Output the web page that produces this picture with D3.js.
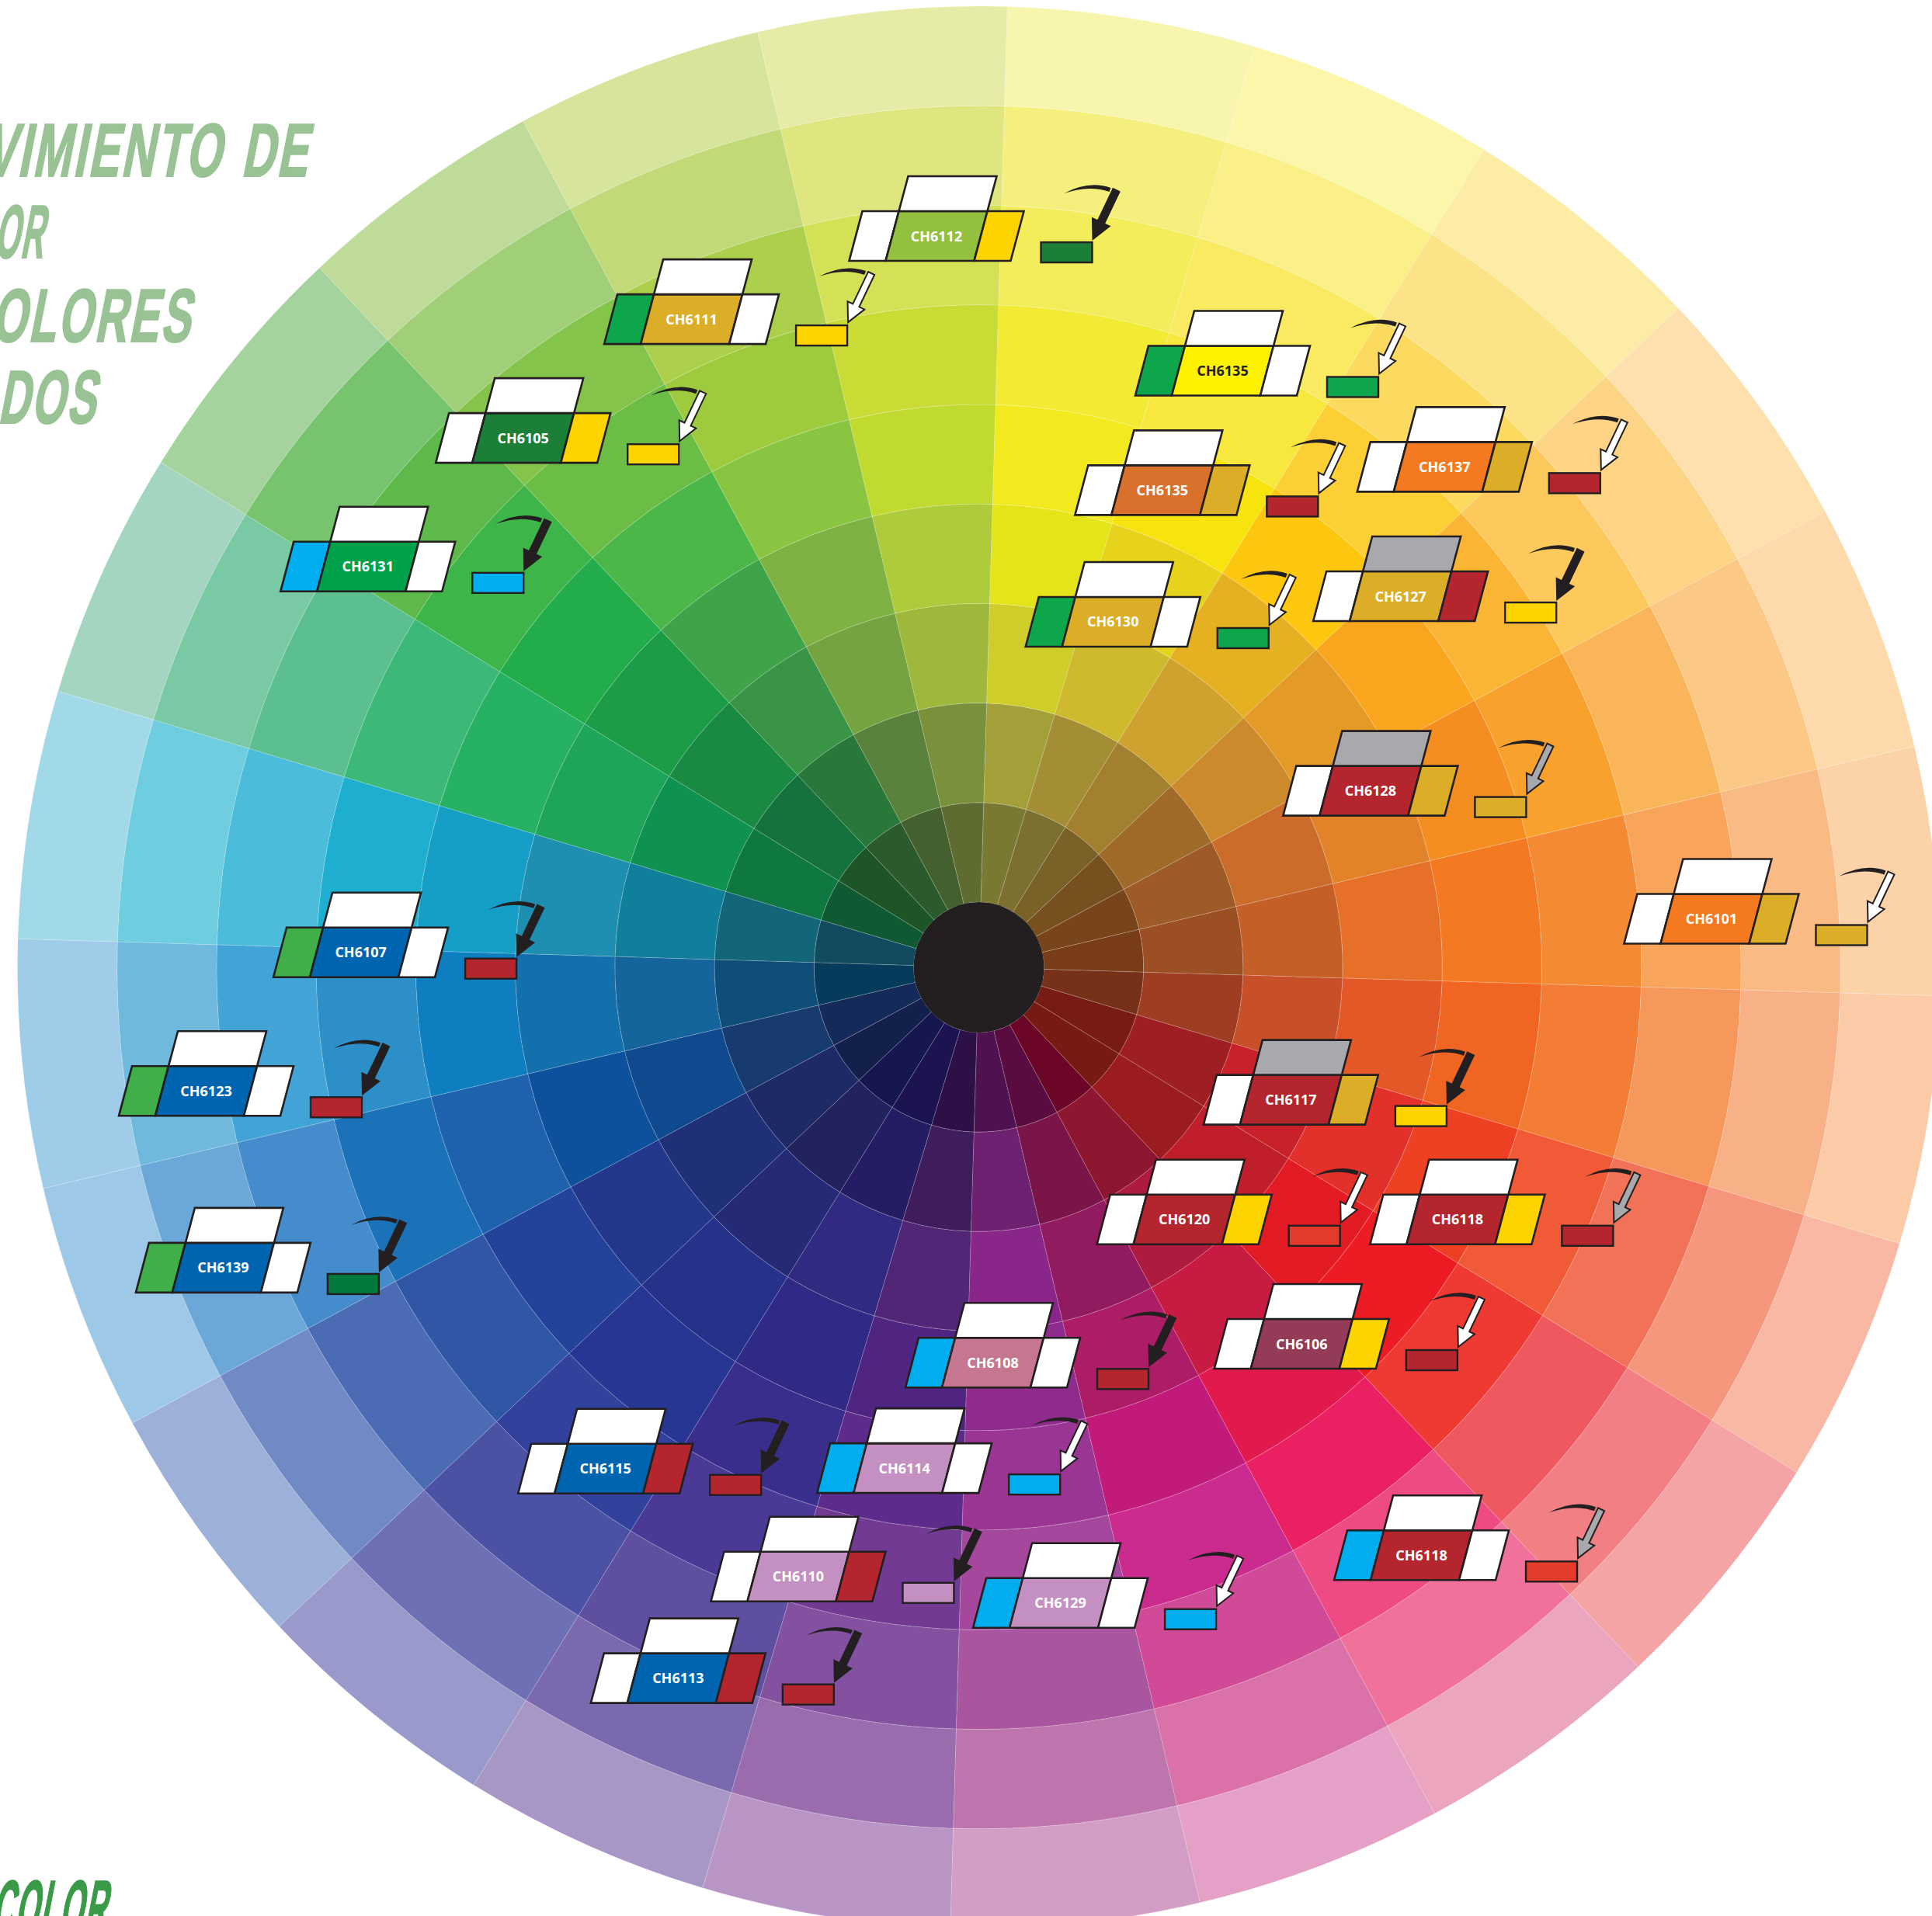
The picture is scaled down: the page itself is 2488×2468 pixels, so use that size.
<!DOCTYPE html>
<html>
<head>
<meta charset="utf-8">
<script src="https://cdn.jsdelivr.net/npm/d3@7"></script>
<style>
  html, body { margin: 0; padding: 0; background: #fff; }
  svg { display: block; }
</style>
</head>
<body>
<div id="wheel"></div>
<script>
// colour wheel: 24 hue sectors x 9 rings (inner rings = shades, outer rings = tints)

var svgWidth = 2488;
var svgHeight = 2468;

// one array per ring, inner to outer, sectors clockwise from 12 o'clock (yellow first)
var ring1 = ["#7a7931","#7b7030","#7a6127","#785020","#78441b","#783d18","#783119","#771b15","#771a14","#6b0626","#5a0b40","#4f1150",
             "#2d1048","#1b1450","#17174f","#14204c","#142a58","#073b5b","#124a5f","#0f5a33","#1e5528","#2b5a2c","#45602f","#5f6c31"];
var ring2 = ["#a3a03a","#a38e35","#a2802f","#a06b29","#9f5b27","#9d4f24","#9e3d22","#9d1f21","#9a1b20","#8f1631","#7b1549","#6d2170",
             "#3f1d5d","#241d63","#22225f","#1d2a66","#173a6f","#0f4e79","#136579","#0e7840","#15723f","#2a773a","#5a823c","#7a913c"];
var ring3 = ["#cecd2a","#cfba2d","#cfa12e","#cc8a2d","#cb6c2a","#c55f28","#c75029","#c8212a","#c11e2c","#ae1b3e","#921a5e","#8a2689",
             "#512676","#302a80","#242a76","#1f3078","#0f4a8e","#15649b","#0f7f9b","#0f924f","#1a8a43","#399446","#74a33f","#9db83b"];
var ring4 = ["#e5e418","#e7d21c","#e5b021","#e49a26","#e2832a","#e67027","#e45726","#e3302a","#e21b24","#c81b41","#ad1c66","#8f2b8c",
             "#502582","#2f2a86","#263189","#23388a","#0d519d","#1470ac","#1e8eb1","#1fa55a","#1d9c48","#3fa449","#7eb242","#adcb3a"];
var ring5 = ["#f2e91e","#f7e40f","#fdc70f","#f9a61e","#f48e20","#f37a22","#f06522","#ee4124","#ed1c24","#e2194d","#c21a7b","#9a3594",
             "#5d2b8c","#3a2e8c","#273692","#23439b","#1e61ad","#0f7ec0","#159fc6","#27b164","#23ad4a","#4ab748","#89c541","#c1da2f"];
var ring6 = ["#f2ea33","#f8e73c","#fcd035","#fbb534","#f8a12d","#f48a33","#f37d34","#f05a36","#ee3a33","#ea2063","#cb2a8f","#a5479c",
             "#723a92","#4a3a95","#31419c","#3056a6","#1b72b9","#2d8fc8","#1eaecf","#3cb979","#3db548","#6bbd45","#9dcb3d","#cadb36"];
var ring7 = ["#f3ed5b","#f9ea62","#fcd95f","#fdc95c","#fab55b","#f8a55b","#f6975c","#f27257","#f0585f","#ee4b84","#d04a97","#aa559f",
             "#8450a0","#5f4fa0","#4b52a3","#4b6bb4","#448ccb","#42a3d6","#4bbcd9","#5bbf8f","#5dba4a","#84c44a","#acd04b","#d4e055"];
var ring8 = ["#f5f07e","#fbef88","#fde387","#fdd486","#fcc885","#f9ba83","#f8b087","#f5977d","#f17f84","#f0729b","#da71a8","#be74ac",
             "#9a6cae","#7a69ae","#6d70b5","#7189c5","#6ca7d9","#6fb9dd","#6fcde0","#79c9a5","#78c36e","#a1cf78","#c1da77","#dfe57f"];
var ring9 = ["#f8f5ae","#fbf6aa","#fdeca6","#fde0ad","#fdd9ab","#fcd3a8","#fbcba7","#f8b8a3","#f5a4a5","#eca5be","#e4a0c6","#d39dc5",
             "#b995c5","#a796c6","#999acb","#9db0da","#9ec8e8","#9fcde9","#a2d9e9","#a3d5c0","#a4d39e","#bfdb99","#d7e49b","#e6eca7"];
var rings = [ring1, ring2, ring3, ring4, ring5, ring6, ring7, ring8, ring9];

// every hue sector has the same share of the circle
var sectorWeights = [1,1,1,1,1,1,1,1,1,1,1,1,1,1,1,1,1,1,1,1,1,1,1,1];

// pigment cards laid over the wheel
var labelCodes = ["CH6112","CH6111","CH6105","CH6131","CH6107","CH6123","CH6139","CH6115","CH6114","CH6110","CH6113","CH6129",
                  "CH6108","CH6117","CH6120","CH6118","CH6106","CH6118","CH6101","CH6128","CH6127","CH6130","CH6135","CH6137","CH6135"];
var labelAngle = [349.6,329.0,312.9,298.3,269.2,260.2,248.9,221.2,197.1,202.9,207.8,180.5,
                  189.9,125.0,156.9,125.3,149.6,149.9,87.9,63.5,44.0,8.3,12.0,38.5,15.3];
var labelRing  = [6.56,6.65,6.79,7.31,6.43,8.11,8.42,6.37,4.87,6.26,7.70,5.98,
                  3.63,2.10,2.37,4.16,4.02,6.46,5.83,2.76,4.18,2.60,3.99,5.45,5.30];
var labelLeft  = ["#ffffff","#0ea64b","#ffffff","#00aeef","#40ae49","#40ae49","#40ae49","#ffffff","#00aeef","#ffffff","#ffffff","#00aeef",
                  "#00aeef","#ffffff","#ffffff","#ffffff","#ffffff","#00aeef","#ffffff","#ffffff","#ffffff","#0ea64b","#ffffff","#ffffff","#0ea64b"];
var labelMid   = ["#93c03e","#dcad26","#1b7f37","#00a14b","#0065b0","#0065b0","#0065b0","#0065b0","#c490c2","#c490c2","#0065b0","#c490c2",
                  "#c7768f","#b5252d","#b5252d","#b5252d","#943b58","#b5252d","#f47920","#b5252d","#dcad26","#dcad26","#d9712c","#f47920","#fff200"];
var labelRight = ["#fdd400","#ffffff","#fdd400","#ffffff","#ffffff","#ffffff","#ffffff","#b5252d","#ffffff","#b5252d","#b5252d","#ffffff",
                  "#ffffff","#dcad26","#fdd400","#fdd400","#fdd400","#ffffff","#dcad26","#dcad26","#b5252d","#ffffff","#dcad26","#dcad26","#ffffff"];
var labelTop   = ["#ffffff","#ffffff","#ffffff","#ffffff","#ffffff","#ffffff","#ffffff","#ffffff","#ffffff","#ffffff","#ffffff","#ffffff",
                  "#ffffff","#a7a9ac","#ffffff","#ffffff","#ffffff","#ffffff","#ffffff","#a7a9ac","#a7a9ac","#ffffff","#ffffff","#ffffff","#ffffff"];
var labelInk   = ["#fff","#fff","#fff","#fff","#fff","#fff","#fff","#fff","#fff","#fff","#fff","#fff",
                  "#fff","#fff","#fff","#fff","#fff","#fff","#fff","#fff","#fff","#fff","#fff","#fff","#231f20"];
var swatchFill = ["#1b7f37","#fdd400","#fdd400","#00aeef","#b5252d","#b5252d","#00793d","#b5252d","#00aeef","#c490c2","#b5252d","#00aeef",
                  "#b5252d","#fdd400","#e43b2a","#b5252d","#b5252d","#e43b2a","#dcad26","#dcad26","#fdd400","#0ea64b","#b5252d","#b5252d","#0ea64b"];
var arrowFill  = ["#231f20","#ffffff","#ffffff","#231f20","#231f20","#231f20","#231f20","#231f20","#ffffff","#231f20","#231f20","#ffffff",
                  "#231f20","#231f20","#ffffff","#a7a9ac","#ffffff","#a7a9ac","#ffffff","#a7a9ac","#231f20","#ffffff","#ffffff","#ffffff","#ffffff"];

// headline words; the page edge cuts their first letters
var titleLines = ["MOVIMIENTO DE", "COLOR", "COLORES", "COMBINADOS"];
var footText = "COLOR";

//SVG wrapper
var svg = d3.select("#wheel")
  .append("svg")
  .attr("width", svgWidth)
  .attr("height", svgHeight);

var cx = 1260.5, cy = 1246;
var startDeg = 1.7;
var toRad = Math.PI / 180;

// ring index -> radius (ring 0 is the black hub)
var rScale = d3.scaleLinear().domain([0, 9]).range([84, 1238]);

var pie = d3.pie().sort(null).value(d => d)
  .startAngle(startDeg * toRad)
  .endAngle((startDeg + 360) * toRad);
var slices = pie(sectorWeights);
var arc = d3.arc();

var wheel = svg.append("g")
  .attr("transform", `translate(${cx}, ${cy})`);

rings.forEach((ring, j) => {
  wheel.append("g").selectAll("path")
    .data(slices)
    .enter()
    .append("path")
    .attr("d", d => arc({
      innerRadius: rScale(j),
      outerRadius: rScale(j + 1),
      startAngle: d.startAngle,
      endAngle: d.endAngle
    }))
    .attr("fill", (d, i) => ring[i])
    .attr("stroke", "rgba(255,255,255,0.22)")
    .attr("stroke-width", 0.8);
});

wheel.append("circle")
  .attr("r", rScale(0))
  .attr("fill", "#231f20");

//Cards
function polar(angleDeg, ringPos) {
  var a = angleDeg * toRad, r = rScale(ringPos);
  return [cx + r * Math.sin(a), cy - r * Math.cos(a)];
}

var cards = labelCodes.map((code, i) => ({
  code: code, pos: polar(labelAngle[i], labelRing[i]),
  left: labelLeft[i], mid: labelMid[i], right: labelRight[i], top: labelTop[i],
  ink: labelInk[i], swatch: swatchFill[i], arrow: arrowFill[i]
}));

var ink = "#231f20";
var line = d3.line();

// arrow body from tail to tip
function arrowShape(tail, tip) {
  var dx = tip[0] - tail[0], dy = tip[1] - tail[1];
  var len = Math.hypot(dx, dy);
  var u = [dx / len, dy / len], n = [-u[1], u[0]];
  var w = 4.5, W = 12, h = 24;
  var b = [tip[0] - u[0] * h, tip[1] - u[1] * h];
  var p = (o, k) => [o[0] + n[0] * k, o[1] + n[1] * k];
  return [p(tail, w), p(b, w), p(b, W), tip, p(b, -W), p(b, -w), p(tail, -w)];
}

var cardGroups = svg.append("g").selectAll("g")
  .data(cards)
  .enter()
  .append("g")
  .attr("transform", d => `translate(${d.pos[0]}, ${d.pos[1]})`);

var cells = [
  { key: "left",  pts: [[0,0],[47,0],[64,-64],[17,-64]] },
  { key: "mid",   pts: [[47,0],[161,0],[178,-64],[64,-64]] },
  { key: "right", pts: [[161,0],[208,0],[225,-64],[178,-64]] },
  { key: "top",   pts: [[64,-64],[178,-64],[190,-109],[76,-109]] }
];

cells.forEach(c => {
  cardGroups.append("path")
    .attr("d", line(c.pts) + "Z")
    .attr("fill", d => d[c.key])
    .attr("stroke", ink)
    .attr("stroke-width", 2.6)
    .attr("stroke-linejoin", "miter");
});

cardGroups.append("text")
  .attr("x", 112.5)
  .attr("y", -32)
  .attr("dy", "0.36em")
  .attr("text-anchor", "middle")
  .attr("font-family", "'Open Sans', sans-serif")
  .attr("font-weight", 700)
  .attr("font-size", 18)
  .attr("fill", d => d.ink)
  .text(d => d.code);

cardGroups.append("rect")
  .attr("x", 247)
  .attr("y", -24)
  .attr("width", 66)
  .attr("height", 26)
  .attr("fill", d => d.swatch)
  .attr("stroke", ink)
  .attr("stroke-width", 2.4);

// swoosh above the swatch
cardGroups.append("path")
  .attr("d", "M277,-87 Q309,-104 337,-94 L335,-89 Q309,-98 277,-87 Z")
  .attr("fill", ink);

cardGroups.append("path")
  .attr("d", line(arrowShape([344, -91], [314, -28])) + "Z")
  .attr("fill", d => d.arrow)
  .attr("stroke", ink)
  .attr("stroke-width", 2)
  .attr("stroke-linejoin", "miter");

//Headline: squeeze each word so its visible letters land where the print has them
// [first visible char index, left x of that char, right end of the word, baseline]
var headFit = [[3, 22, 398, 227], [3, -8, 57, 332], [2, 36, 247, 440], [7, -3, 125, 545]];

function condensed(sel, txt, fit, colour) {
  var t = sel.append("text")
    .attr("font-family", "'Liberation Sans', 'DejaVu Sans', sans-serif")
    .attr("font-weight", 700)
    .attr("font-size", 97)
    .attr("letter-spacing", 5)
    .attr("word-spacing", 6)
    .attr("fill", colour)
    .attr("stroke", colour)
    .attr("stroke-width", 2.2)
    .text(txt);
  var node = t.node();
  var n = txt.length;
  var a = node.getStartPositionOfChar(fit[0]).x;
  var b = node.getEndPositionOfChar(n - 1).x;
  var s = (fit[2] - fit[1]) / (b - a);
  var tx = fit[1] - s * a;
  t.attr("transform", `translate(${tx}, ${fit[3]}) skewX(-11) scale(${s}, 1)`);
}

var head = svg.append("g");
titleLines.forEach((txt, i) => condensed(head, txt, headFit[i], "#99c395"));

condensed(svg, footText, [1, 18, 137, 2490], "#3a9a48");
</script>
</body>
</html>
